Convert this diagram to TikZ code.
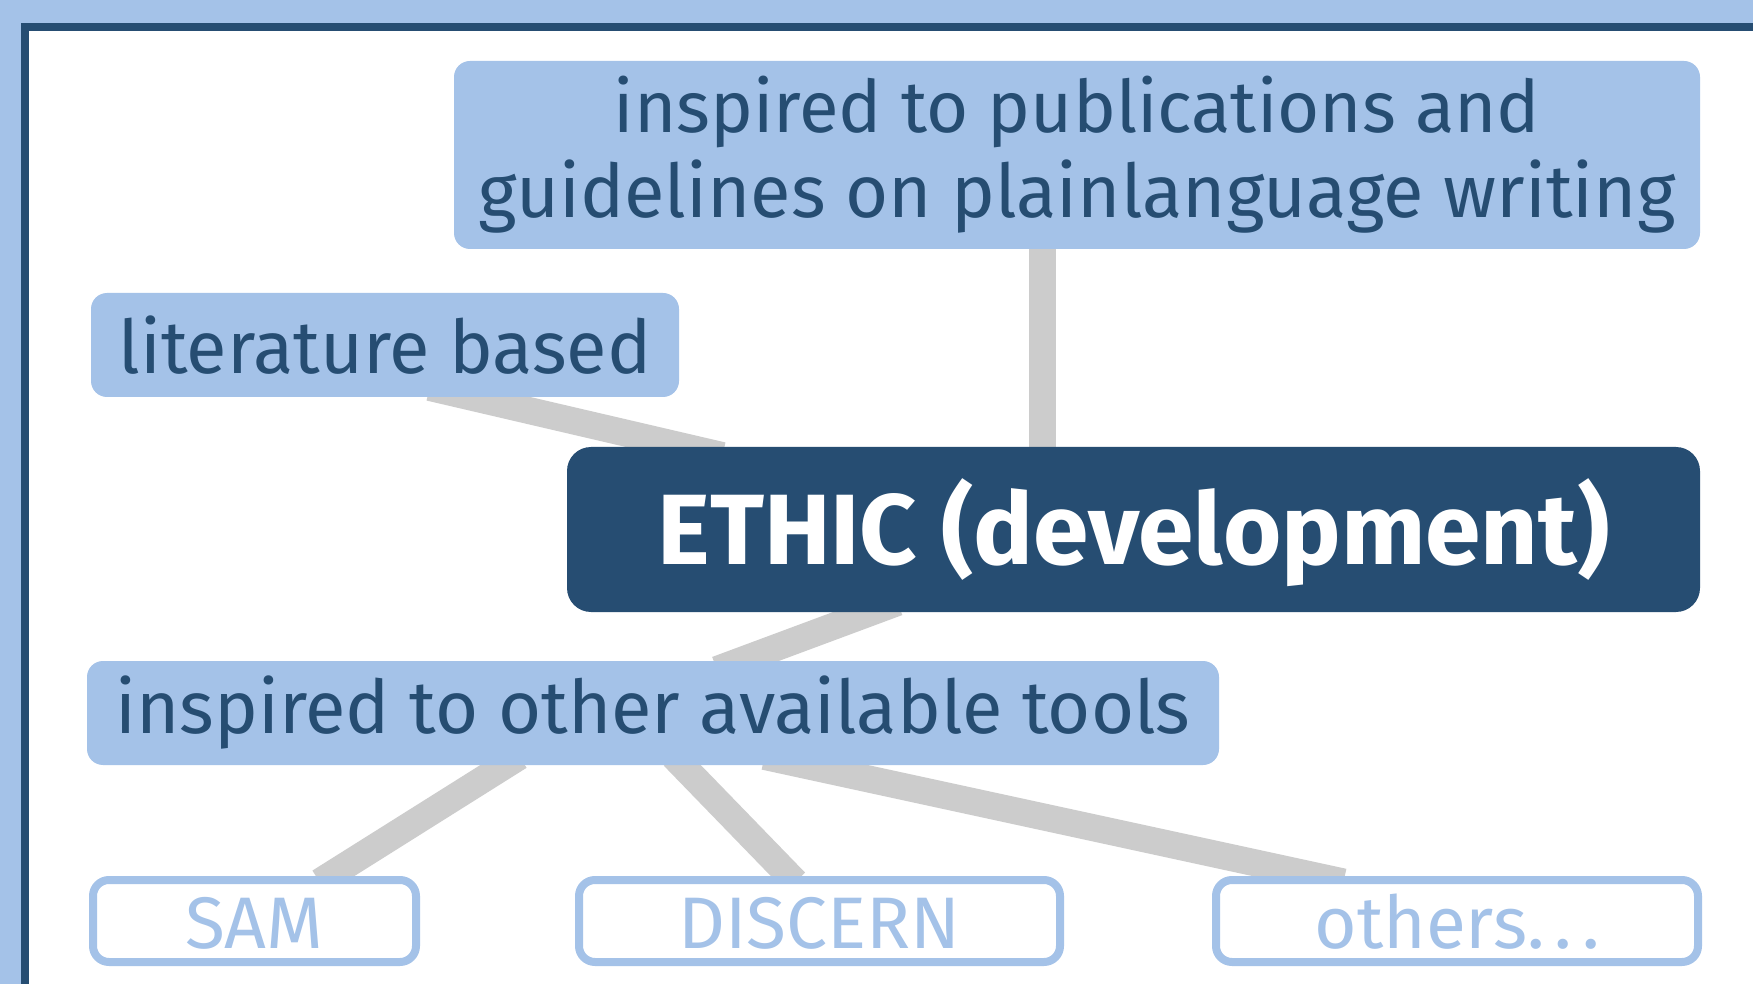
\documentclass[tikz,border=0pt]{standalone}
\usepackage{fontspec}
\setmainfont{Fira Sans}
\usetikzlibrary{calc}
\definecolor{lb}{RGB}{164,194,232}
\definecolor{db}{RGB}{38,77,114}
\definecolor{cg}{RGB}{204,204,204}
\pgfdeclarelayer{bg}
\pgfdeclarelayer{lines}
\pgfsetlayers{bg,lines,main}
\begin{document}
\begin{tikzpicture}[x=0.5pt,y=-0.5pt,
  lightbox/.style={fill=lb, text=db, rounded corners=8pt, inner sep=0pt,
    font=\fontsize{37}{42.5}\selectfont, align=center},
  darkbox/.style={fill=db, text=white, rounded corners=12pt, inner sep=0pt,
    text height=36pt, text depth=1.5pt,
    font=\fontsize{50}{58}\selectfont\bfseries},
  toolbox/.style={draw=lb, line width=4pt, fill=white, text=lb, rounded corners=8pt,
    inner sep=0pt, minimum height=41pt, text height=27.5pt, text depth=0pt,
    font=\fontsize{36.5}{40}\selectfont},
  conn/.style={draw=cg, line width=13.5pt}]
\useasboundingbox (0,0) rectangle (1753,984);
\begin{pgfonlayer}{bg}
  \fill[lb] (0,0) rectangle (1753,984);
  \fill[db] (20.5,23.3) rectangle (1753,984);
  \fill[white] (28.7,31.3) rectangle (1753,984);
\end{pgfonlayer}
\node[lightbox, minimum width=623pt, minimum height=94pt] (top) at (1077,155)
  {\fontsize{36.2}{42.5}\selectfont inspired to publications and\\guidelines on plainlanguage writing};
\node[lightbox, minimum width=294pt, minimum height=52pt] (lit) at (385,345) {literature based};
\node[darkbox, minimum width=566.5pt, minimum height=82.5pt] (ethic) at (1133.5,529.5) {ETHIC (development)};
\node[lightbox, minimum width=566pt, minimum height=52pt] (other) at (653,713) {inspired to other available tools};
\node[toolbox, minimum width=161.5pt] (sam) at (254.5,921) {SAM};
\node[toolbox, minimum width=240.5pt] (discern) at (819.5,921) {DISCERN};
\node[toolbox, minimum width=241pt] (others) at (1457,921) {others.\kern5pt.\kern5pt.};
\begin{pgfonlayer}{lines}
  \draw[conn] ($(top.south)+(-34.5,-10)$) -- ($(ethic.north)+(-91,10)$);
  \draw[conn] ($(lit.south)+(44.6,-10)$) -- ($(ethic.north)+(-411.1,9)$);
  \draw[conn] ($(ethic.south)+(-235.9,-10)$) -- ($(other.north)+(63.9,9)$);
  \draw[conn] ($(other.south)+(-133.6,-9)$) -- ($(sam.north)+(65.1,6)$);
  \draw[conn] ($(other.south)+(20.6,-9)$) -- ($(discern.north)+(-24.1,6)$);
  \draw[conn] ($(other.south)+(111.5,-9)$) -- ($(others.north)+(-113.5,6)$);
\end{pgfonlayer}
\end{tikzpicture}
\end{document}
